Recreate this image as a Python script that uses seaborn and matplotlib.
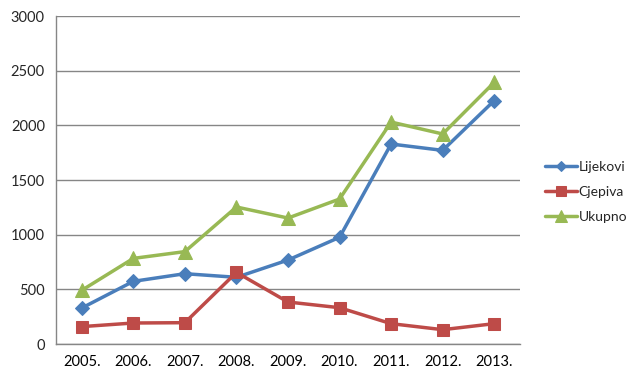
import numpy as np
import pandas as pd
import matplotlib
matplotlib.use("Agg")
import matplotlib.pyplot as plt
import seaborn as sns

years = ["2005.", "2006.", "2007.", "2008.", "2009.", "2010.", "2011.", "2012.", "2013."]
lijekovi = [329, 573, 643, 610, 768, 976, 1829, 1771, 2226]
cjepiva = [159, 192, 195, 655, 384, 332, 186, 131, 186]
ukupno = [491, 783, 845, 1253, 1152, 1326, 2030, 1921, 2393]

series = [
    ("Lijekovi", lijekovi, "#4A7EBB", "D", 7),
    ("Cjepiva", cjepiva, "#BE4B48", "s", 9),
    ("Ukupno", ukupno, "#98B954", "^", 10),
]

sns.set_style("white")
plt.rcParams["font.family"] = ["Lato", "DejaVu Sans"]

fig = plt.figure(figsize=(6.39, 3.84), dpi=100)
ax = fig.add_axes([56 / 639, 40 / 384, (520 - 56) / 639, (344 - 16) / 384])

idx = np.arange(len(years))
for name, vals, col, mk, ms in series:
    sns.lineplot(x=idx, y=vals, ax=ax, color=col, marker=mk, markersize=ms,
                 markeredgecolor=col, linewidth=2.5, label=name)

ax.set_xlim(-0.5, len(years) - 0.5)
ax.set_ylim(0, 3000)
ax.set_yticks(range(0, 3001, 500))
ax.yaxis.grid(True, color="#868686", linewidth=1)
ax.set_axisbelow(True)

ax.set_xticks(idx)
ax.set_xticklabels(years)
ax.set_xticks(np.arange(-0.5, len(years)), minor=True)
ax.tick_params(axis="x", which="major", length=0, pad=8, labelsize=10.5, colors="#000000")
ax.tick_params(axis="x", which="minor", length=5, width=1, color="#868686", direction="out")
ax.tick_params(axis="y", length=4, width=1, color="#868686", labelsize=10.5, pad=4)

for s in ["top", "right"]:
    ax.spines[s].set_visible(False)
for s in ["left", "bottom"]:
    ax.spines[s].set_color("#868686")
    ax.spines[s].set_linewidth(1)

ax.set_xlabel("")
ax.set_ylabel("")
leg = ax.legend(loc="center left", bbox_to_anchor=(1.028, 0.463), frameon=False,
                fontsize=10, handlelength=2.3, handletextpad=0.1, labelspacing=0.95,
                markerscale=0.8)

fig.savefig("out.png", dpi=100)
